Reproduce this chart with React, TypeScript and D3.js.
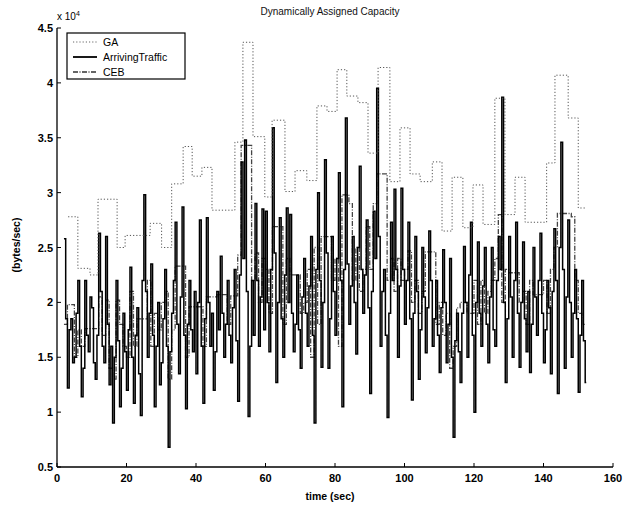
import React from "react";
import * as d3 from "d3";

// values are in units of 1e4 bytes/sec, as on the y axis
const xTickValues = [0, 20, 40, 60, 80, 100, 120, 140, 160];
const yTickValues = [0.5, 1, 1.5, 2, 2.5, 3, 3.5, 4, 4.5];
const yTickLabels = ["0.5", "1", "1.5", "2", "2.5", "3", "3.5", "4", "4.5"];

// GA: piecewise constant capacity (start time, level)
const gaStart = [3.2, 6, 9.5, 11.8, 17.3, 19.6, 26.8, 30.1, 33, 36.3, 38.9, 41.7, 44.6, 51.2, 53.5, 56.4, 59.8, 61.9, 65.6, 68.5, 71.9, 74.8, 77.7, 80.6, 83.4, 86.6, 89.5, 92.4, 95.8, 98.7, 101.6, 104.5, 108, 110.8, 113.7, 116.8, 119.7, 122.6, 126, 128.9, 131.8, 134.7, 140.9, 143.3, 147.1, 150];
const gaValue = [2.78, 2.31, 2.25, 2.94, 2.5, 2.61, 2.72, 2.5, 3.08, 3.42, 3.15, 3.23, 2.84, 3.46, 4.37, 3.51, 2.96, 3.66, 3.01, 3.2, 3.11, 3.79, 3.74, 4.12, 3.88, 3.82, 3.36, 4.14, 3.1, 3.59, 3.17, 3.1, 3.28, 2.65, 3.14, 2.68, 3.07, 2.71, 3.86, 2.8, 3.14, 2.73, 3.27, 4.07, 3.68, 2.86];
const gaEnd = 152.4;

// ArrivingTraffic, one sample every half second from t = 2
const arrivingStart = 2;
const arrivingStep = 0.5;
const arriving = [
  2.58, 1.85, 1.22, 1.75, 1.85, 1.45, 1.5, 1.9, 2.2, 1.6,
  1.14, 1.4, 2.2, 1.7, 1.55, 2.05, 1.95, 1.45, 1.3, 1.7,
  2.63, 2.1, 1.6, 1.45, 2.6, 1.8, 1.25, 1.6, 0.9, 1.5,
  2.2, 1.65, 1.05, 1.4, 1.9, 1.55, 1.2, 1.75, 2.32, 1.5,
  1.08, 1.7, 1.95, 1.35, 0.97, 2.2, 2.98, 2.1, 1.5, 1.9,
  2.35, 1.7, 1.05, 1.6, 2.0, 1.25, 1.45, 1.85, 2.3, 1.6,
  0.68, 1.55, 1.9, 2.2, 2.73, 1.8, 1.35, 2.05, 2.87, 1.7,
  1.03, 1.8, 2.2, 1.75, 1.55, 2.1, 1.35, 2.0, 2.75, 1.6,
  1.08, 1.85, 2.77, 2.0, 1.6, 1.9, 1.2, 1.55, 2.1, 1.75,
  2.42, 1.9, 1.5, 1.8, 2.2, 1.7, 1.45, 1.95, 2.3, 1.65,
  1.1, 2.25, 3.28, 2.4, 3.48, 2.1, 0.96, 1.6, 2.2, 1.7,
  2.9, 2.2, 1.6, 2.05, 2.85, 1.75, 2.83, 2.0, 1.55, 2.3,
  3.59, 2.45, 1.27, 2.0, 2.77, 1.85, 1.5, 2.25, 2.86, 2.0,
  2.8, 1.9, 1.55, 1.8, 2.25, 1.75, 1.4, 2.05, 2.4, 1.9,
  1.6, 2.15, 2.6, 1.7, 0.9, 2.3, 3.0, 2.2, 1.41, 2.0,
  3.3, 2.45, 1.4, 1.85, 2.6, 2.1, 1.7, 2.4, 3.18, 2.2,
  1.05, 2.3, 3.68, 2.35, 1.8, 2.15, 2.6, 2.0, 1.53, 2.5,
  3.24, 2.3, 1.9, 2.25, 2.75, 1.95, 1.17, 2.1, 2.83, 2.4,
  3.95, 2.6, 1.6, 2.1, 2.3, 1.7, 0.95, 1.9, 2.73, 2.2,
  3.03, 2.3, 1.5, 2.15, 3.04, 2.3, 1.8, 2.2, 2.73, 1.85,
  1.11, 1.9, 2.6, 2.1, 1.3, 1.75, 2.5, 2.05, 1.54, 1.95,
  2.65, 2.2, 1.6, 1.85, 2.2, 1.7, 1.36, 1.95, 2.48, 2.0,
  1.45, 1.8, 2.4, 1.5, 0.77, 1.65, 1.9, 1.55, 1.27, 1.9,
  2.51, 2.0, 1.5, 2.25, 2.73, 1.7, 1.0, 2.0, 2.55, 1.9,
  1.6, 2.15, 2.5, 1.8, 1.45, 2.05, 2.5, 1.75, 1.6, 2.2,
  2.6, 2.3, 3.87, 2.0, 1.27, 1.85, 2.6, 2.05, 1.5, 2.2,
  2.73, 1.9, 1.41, 2.0, 2.55, 1.85, 1.55, 2.1, 1.36, 1.8,
  2.5, 2.05, 1.7, 2.2, 2.63, 1.9, 1.45, 1.75, 2.2, 1.95,
  1.35, 2.1, 2.67, 2.2, 1.17, 2.5, 3.46, 2.3, 1.4, 2.05,
  2.75, 2.0, 1.5, 1.9, 2.3, 1.85, 1.18, 1.7, 2.2, 1.65,
  1.27,
];

// CEB, one sample per second from t = 2
const cebStart = 2;
const ceb = [
  1.8, 1.98, 1.98, 1.5, 1.75, 1.6, 1.76, 1.76, 1.76, 1.76,
  2.05, 1.7, 2.02, 1.4, 1.3, 2.02, 1.8, 1.6, 1.5, 2.1,
  1.6, 1.85, 1.85, 1.85, 2.2, 1.6, 1.9, 1.75, 2.0, 2.1,
  1.3, 1.75, 2.33, 2.33, 2.33, 1.5, 1.96, 1.96, 1.96, 1.96,
  1.6, 2.05, 2.05, 2.05, 2.07, 2.07, 2.07, 1.8, 2.06, 2.06,
  2.43, 3.43, 3.43, 3.43, 2.2, 2.45, 2.0, 2.4, 2.3, 1.9,
  2.69, 2.69, 2.69, 1.8, 2.4, 2.25, 2.25, 2.25, 1.9, 2.0,
  2.3, 1.5, 2.5, 1.8, 2.6, 2.6, 2.6, 2.2, 2.4, 1.6,
  2.98, 2.98, 2.9, 2.2, 2.5, 2.1, 2.3, 2.69, 2.3, 2.9,
  3.17, 3.17, 3.17, 2.2, 2.4, 2.1, 2.4, 2.2, 2.3, 2.47,
  2.0, 2.2, 1.9, 2.1, 2.46, 2.46, 2.46, 1.8, 2.0, 1.7,
  1.9, 1.4, 1.6, 1.95, 2.0, 2.0, 1.9, 1.9, 2.2, 1.8,
  2.2, 1.9, 2.1, 2.2, 2.4, 2.8, 2.0, 2.3, 2.27, 2.27,
  2.27, 2.0, 2.1, 1.8, 2.2, 2.07, 2.07, 2.07, 2.2, 1.9,
  2.3, 2.5, 2.81, 2.81, 2.81, 2.81, 2.78, 2.2, 1.9, 1.8,
  1.8,
];

const legendItems = [
  { name: "GA", dash: "1.2,2", color: "#666", width: 1 },
  { name: "ArrivingTraffic", dash: "none", color: "#000", width: 1.8 },
  { name: "CEB", dash: "5,1.5,1,1.5", color: "#333", width: 1.4 },
];

const W = 629;
const H = 510;
const font = "'Liberation Sans', Arial, Helvetica, sans-serif";

export default function App() {
  const x = d3.scaleLinear().domain([0, 160]).range([57, 613]);
  const y = d3.scaleLinear().domain([0.5, 4.5]).range([467, 28]);

  const gaPts: [number, number][] = gaStart.map((t, i) => [t, gaValue[i]]);
  gaPts.push([gaEnd, gaValue[gaValue.length - 1]]);

  const toPts = (vals: number[], t0: number, dt: number): [number, number][] => {
    const pts: [number, number][] = vals.map((v, i) => [t0 + i * dt, v]);
    pts.push([t0 + (vals.length - 1) * dt + 0.3, vals[vals.length - 1]]);
    return pts;
  };

  const line = d3
    .line<[number, number]>()
    .x((d) => x(d[0]))
    .y((d) => y(d[1]))
    .curve(d3.curveStepAfter);

  const [x0, x1] = x.range();
  const [yb, yt] = y.range();

  return (
    <svg
      width={W}
      height={H}
      style={{ position: "absolute", left: 0, top: 0, background: "#fff" }}
      fontFamily={font}
    >
      <rect width={W} height={H} fill="#fff" />
      <text x={330} y={15} fontSize={10} textAnchor="middle" fill="#111">
        Dynamically Assigned Capacity
      </text>

      {/* series */}
      <path d={line(toPts(ceb, cebStart, 1)) || ""} fill="none" stroke="#444" strokeWidth={1.3} strokeDasharray="5,1.5,1,1.5" />
      <path d={line(toPts(arriving, arrivingStart, arrivingStep)) || ""} fill="none" stroke="#000" strokeWidth={1.5} />
      <path d={line(gaPts) || ""} fill="none" stroke="#555" strokeWidth={1} strokeDasharray="1.2,2" />

      {/* axes */}
      <line x1={x0} x2={x0} y1={yt} y2={yb} stroke="#000" strokeWidth={1.3} />
      <line x1={x0} x2={x1} y1={yb} y2={yb} stroke="#000" strokeWidth={1.3} />
      {yTickValues.map((v, i) => (
        <g key={"y" + v}>
          <line x1={x0} x2={x0 + 4} y1={y(v)} y2={y(v)} stroke="#000" />
          <text x={x0 - 4} y={y(v) + 4} fontSize={11} fontWeight="bold" textAnchor="end" fill="#000">
            {yTickLabels[i]}
          </text>
        </g>
      ))}
      {xTickValues.map((v) => (
        <g key={"x" + v}>
          <line x1={x(v)} x2={x(v)} y1={yb} y2={yb - 4} stroke="#000" />
          <text x={x(v)} y={yb + 15} fontSize={11} fontWeight="bold" textAnchor="middle" fill="#000">
            {v}
          </text>
        </g>
      ))}
      <text x={x0} y={yt - 8} fontSize={10} fill="#000">
        x 10<tspan dy={-4} fontSize={7}>4</tspan>
      </text>
      <text x={330} y={500} fontSize={10.5} fontWeight="bold" textAnchor="middle" fill="#000">
        time (sec)
      </text>
      <text transform="translate(20,245) rotate(-90)" fontSize={10.5} fontWeight="bold" textAnchor="middle" fill="#000">
        (bytes/sec)
      </text>

      {/* legend */}
      <g>
        <rect x={67} y={33} width={118} height={46} fill="#fff" stroke="#000" strokeWidth={1.2} />
        {legendItems.map((d, i) => (
          <g key={d.name} transform={`translate(0,${42 + i * 15})`}>
            <line x1={73} x2={97} y1={0} y2={0} stroke={d.color} strokeWidth={d.width} strokeDasharray={d.dash} />
            <text x={103} y={4} fontSize={10.5} fill="#000">
              {d.name}
            </text>
          </g>
        ))}
      </g>
    </svg>
  );
}
